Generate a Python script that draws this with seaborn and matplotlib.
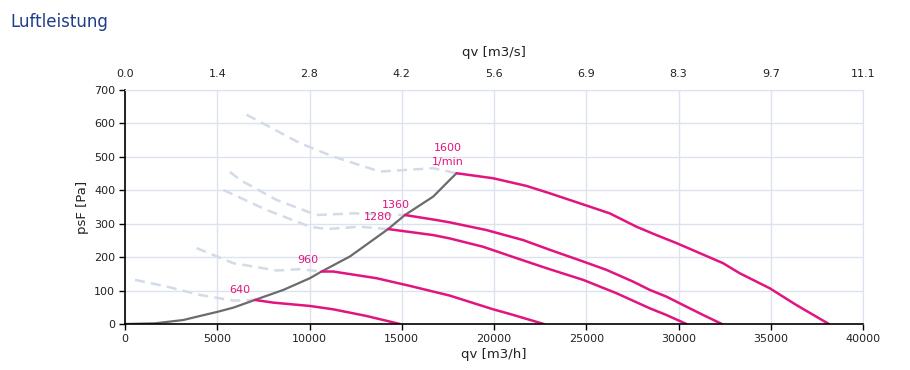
import seaborn as sns
import pandas as pd
import matplotlib.pyplot as plt

curve_color = "#e2147f"
system_color = "#6b6b6b"
dash_color = "#d3dbe8"
grid_color = "#dde3ee"

# fan curves (qv m3/h, psF Pa) per speed
speeds = ["640", "960", "1280", "1360", "1600"]
qv_640 = [7040, 8030, 10020, 11280, 13090, 14900]
ps_640 = [72, 64, 54, 44, 24, 0]
qv_960 = [10650, 11280, 13630, 15440, 17600, 19950, 20860, 22700]
ps_960 = [157, 157, 137, 114, 85, 44, 30, 0]
qv_1280 = [14260, 16700, 17600, 19410, 21220, 22840, 24830, 26640, 28440, 29340, 30430]
ps_1280 = [284, 266, 256, 231, 197, 167, 132, 92, 47, 27, 0]
qv_1360 = [15170, 16880, 17600, 19590, 21580, 23020, 24830, 26090, 27530, 28440, 29340, 30240, 31330, 32350]
ps_1360 = [326, 311, 304, 281, 251, 222, 187, 162, 127, 102, 82, 57, 27, 0]
qv_1600 = [17967, 19950, 21760, 23020, 24920, 26270, 27720, 28800, 29890, 31150, 32410, 33310, 34940, 36380, 38150]
ps_1600 = [451, 436, 413, 391, 356, 331, 291, 266, 242, 212, 182, 152, 107, 57, 0]

# dashed (unstable) parts of the curves
dqv_640 = [540, 2260, 4060, 5870, 7040]
dps_640 = [132, 112, 87, 70, 72]
dqv_960 = [3880, 5870, 8220, 9480, 10650]
dps_960 = [227, 182, 160, 164, 157]
dqv_1280 = [5330, 7680, 10020, 10930, 12730, 14260]
dps_1280 = [401, 341, 291, 284, 291, 284]
dqv_1360 = [5690, 6230, 8220, 10380, 12370, 15170]
dps_1360 = [455, 431, 371, 326, 331, 326]
dqv_1600 = [6590, 9480, 11280, 13810, 16700, 17967]
dps_1600 = [626, 541, 501, 456, 466, 451]

# system curve
sys_qv = [0, 1625, 3160, 4060, 5050, 5870, 7040, 8580, 10020, 10650, 12190, 14260, 15170, 16700, 17600, 17967]
sys_ps = [0, 2, 12, 24, 37, 49, 72, 102, 137, 157, 202, 284, 326, 381, 431, 451]

# speed labels
label_text = ["640", "960", "1280", "1360", "1600", "1/min"]
label_qv = [6230, 9910, 13700, 14680, 17500, 17500]
label_ps = [102, 192, 320, 356, 527, 485]

x_ticks = [0, 5000, 10000, 15000, 20000, 25000, 30000, 35000, 40000]
top_labels = ["0.0", "1.4", "2.8", "4.2", "5.6", "6.9", "8.3", "9.7", "11.1"]
y_ticks = [0, 100, 200, 300, 400, 500, 600, 700]

sns.set_style("white")
plt.rcParams['font.family'] = ['DejaVu Sans']

fig = plt.figure(figsize=(9.1, 3.7), dpi=100)
ax = fig.add_axes([0.1374, 0.1243, 0.811, 0.6325])

solid = pd.concat([
    pd.DataFrame({"qv": q, "ps": p, "n": s})
    for s, q, p in zip(speeds, [qv_640, qv_960, qv_1280, qv_1360, qv_1600],
                       [ps_640, ps_960, ps_1280, ps_1360, ps_1600])
])
dashed = pd.concat([
    pd.DataFrame({"qv": q, "ps": p, "n": s})
    for s, q, p in zip(speeds, [dqv_640, dqv_960, dqv_1280, dqv_1360, dqv_1600],
                       [dps_640, dps_960, dps_1280, dps_1360, dps_1600])
])

sns.lineplot(data=dashed, x="qv", y="ps", units="n", estimator=None, sort=False,
             color=dash_color, lw=1.8, ax=ax, legend=False)
for l in ax.lines:
    l.set_dashes([4, 2.5])
sns.lineplot(x=sys_qv, y=sys_ps, sort=False, color=system_color, lw=1.6, ax=ax)
sns.lineplot(data=solid, x="qv", y="ps", units="n", estimator=None, sort=False,
             color=curve_color, lw=1.8, ax=ax, legend=False)

for t, q, p in zip(label_text, label_qv, label_ps):
    ax.text(q, p, t, color=curve_color, fontsize=8, ha="center", va="center")

ax.set_xlim(0, 40000)
ax.set_ylim(0, 700)
ax.set_xticks(x_ticks)
ax.set_yticks(y_ticks)
ax.grid(True, color=grid_color, lw=1)
for s in ["top", "right"]:
    ax.spines[s].set_color(grid_color)
for s in ["left", "bottom"]:
    ax.spines[s].set_color("black")
    ax.spines[s].set_linewidth(1.2)
ax.tick_params(axis="both", length=4, width=1, color="black", labelsize=8,
               labelcolor="#222222", bottom=True, left=True, pad=3)
ax.set_xlabel("qv [m3/h]", fontsize=9.5, color="#222222", labelpad=3)
ax.set_ylabel("psF [Pa]", fontsize=9.5, color="#222222", labelpad=4)

top = ax.twiny()
top.set_xlim(0, 40000)
top.set_xticks(x_ticks)
top.set_xticklabels(top_labels)
top.tick_params(axis="x", length=0, labelsize=8, labelcolor="#222222", pad=8)
for s in top.spines.values():
    s.set_visible(False)
top.set_xlabel("qv [m3/s]", fontsize=9.5, color="#222222", labelpad=9)

fig.text(10 / 910, 1 - 22 / 370, "Luftleistung", fontsize=12, color="#1f3c88",
         va="center", ha="left")

fig.savefig("out.png", dpi=100)
